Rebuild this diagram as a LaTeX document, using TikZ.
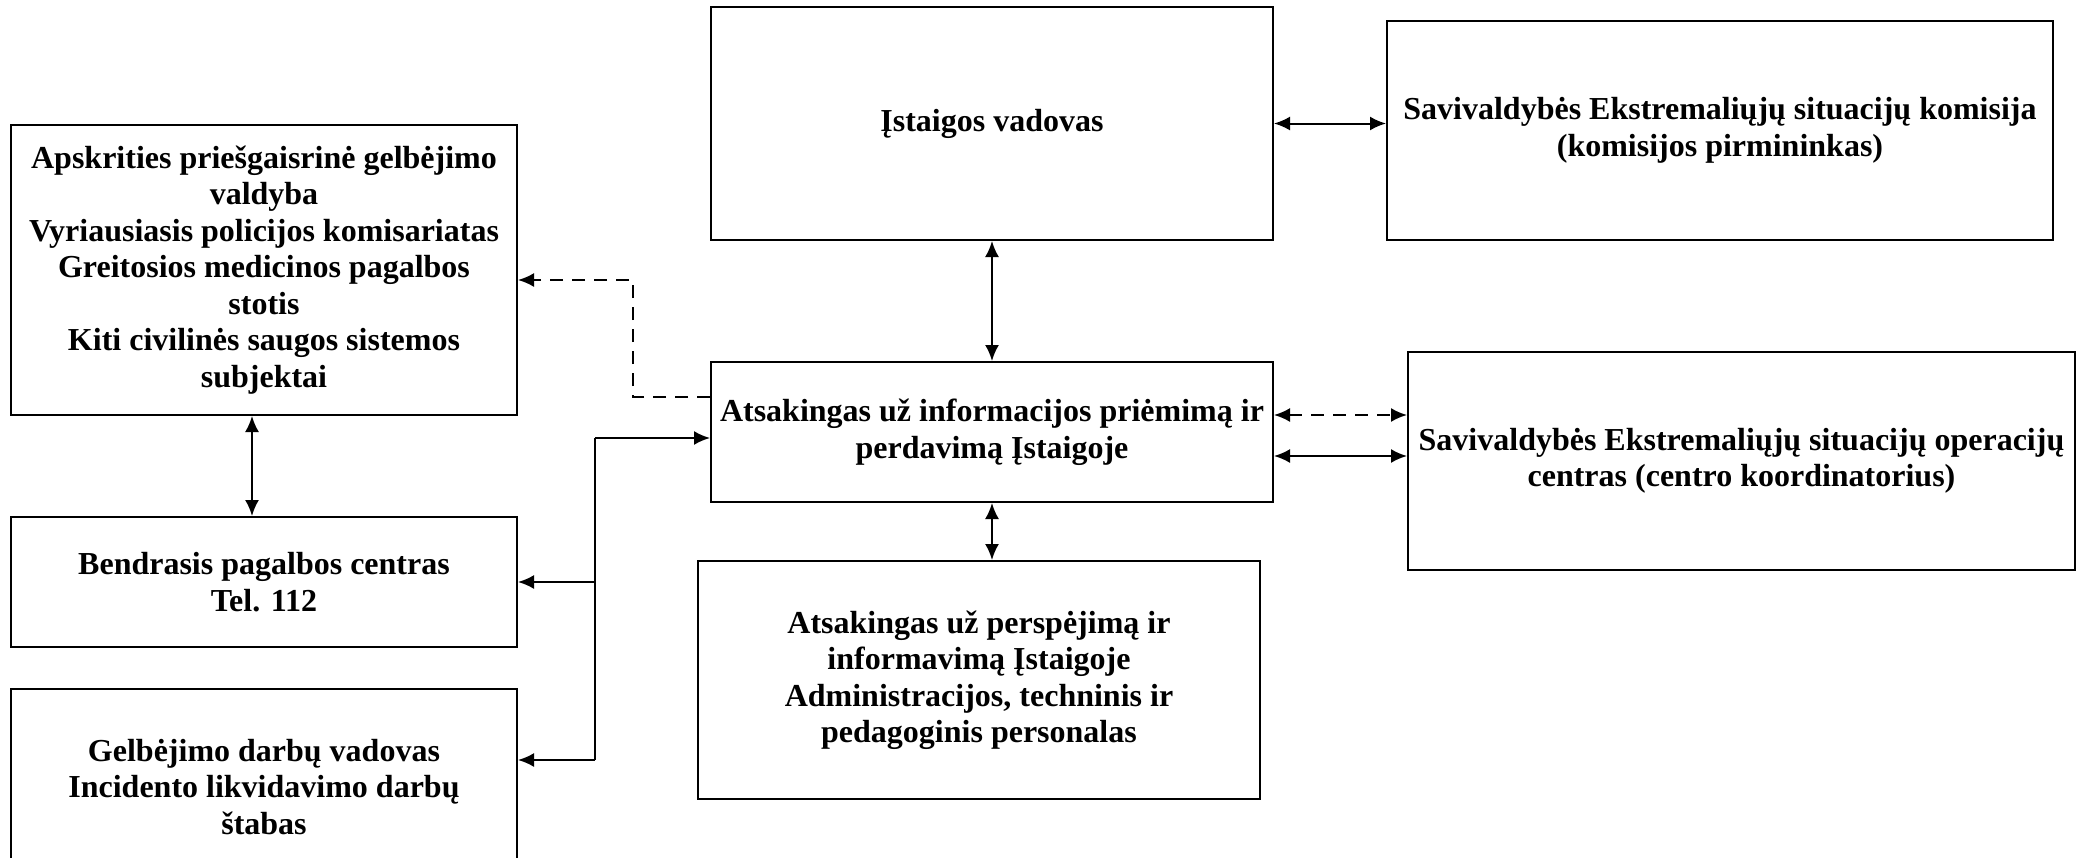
\documentclass[tikz,border=0pt]{standalone}
\usepackage{fontspec}
\setmainfont{Liberation Serif}
\usetikzlibrary{arrows.meta}

\begin{document}
\begin{tikzpicture}[x=1pt, y=-1pt,
    box/.style = {draw, line width=2pt, align=center, inner sep=0pt,
                  font=\fontsize{32}{36.5}\selectfont\bfseries},
    link/.style = {line width=2pt, >={Latex[length=16pt,width=14pt]}},
    dashlink/.style = {link, dash pattern=on 13pt off 9pt}]
        \useasboundingbox (0,0) rectangle (2083,857);

        % left column
        \node[box, minimum width=506pt, minimum height=290pt] (apskr) at (264,270)
            {Apskrities priešgaisrinė gelbėjimo\\ valdyba\\ Vyriausiasis policijos komisariatas\\ Greitosios medicinos pagalbos\\ stotis\\ Kiti civilinės saugos sistemos\\ subjektai};
        \node[box, minimum width=506pt, minimum height=130pt] (bendr) at (264,582)
            {Bendrasis pagalbos centras\\ Tel. 112};
        \node[box, minimum width=506pt, minimum height=196pt] (gelb) at (264,787)
            {Gelbėjimo darbų vadovas\\ Incidento likvidavimo darbų\\ štabas};

        % middle column
        \node[box, minimum width=562pt, minimum height=233pt] (vadov) at (992,123.5)
            {Įstaigos vadovas};
        \node[box, minimum width=562pt, minimum height=140pt] (atsak) at (992,432)
            {Atsakingas už informacijos priėmimą ir\\ perdavimą Įstaigoje};
        \node[box, minimum width=562pt, minimum height=238pt] (persp) at (979,680)
            {Atsakingas už perspėjimą ir\\ informavimą Įstaigoje\\ Administracijos, techninis ir\\ pedagoginis personalas};

        % right column
        \node[box, minimum width=666pt, minimum height=219pt] (komis) at (1720,130.5)
            {Savivaldybės Ekstremaliųjų situacijų komisija\\ (komisijos pirmininkas)};
        \node[box, minimum width=667pt, minimum height=218pt] (operac) at (1741.5,461)
            {Savivaldybės Ekstremaliųjų situacijų operacijų\\ centras (centro koordinatorius)};

        % links
        \draw[link, <->] ([xshift=-12pt]apskr.south) -- ([xshift=-12pt]bendr.north);
        \draw[link, <->] (vadov.south) -- (atsak.north);
        \draw[link, <->] (atsak.south) -- (atsak.south |- persp.north);
        \draw[link, <->] (vadov.east) -- (vadov.east -| komis.west);
        \draw[dashlink, <->] ([yshift=17pt]atsak.east) -- ([yshift=17pt]atsak.east -| operac.west);
        \draw[link, <->] ([yshift=-24pt]atsak.east) -- ([yshift=-24pt]atsak.east -| operac.west);
        \draw[dashlink, ->] ([yshift=35pt]atsak.west) -- ++(-77,0) |- ([yshift=-10pt]apskr.east);

        \coordinate (bustop) at (595,438);
        \coordinate (busbot) at (595,760);
        \draw[link] (bustop) -- (busbot);
        \draw[link, ->] (bustop) -- (bustop -| atsak.west);
        \draw[link, ->] (bustop |- bendr.east) -- (bendr.east);
        \draw[link, ->] (busbot) -- (busbot -| gelb.east);
    \end{tikzpicture}
\end{document}
